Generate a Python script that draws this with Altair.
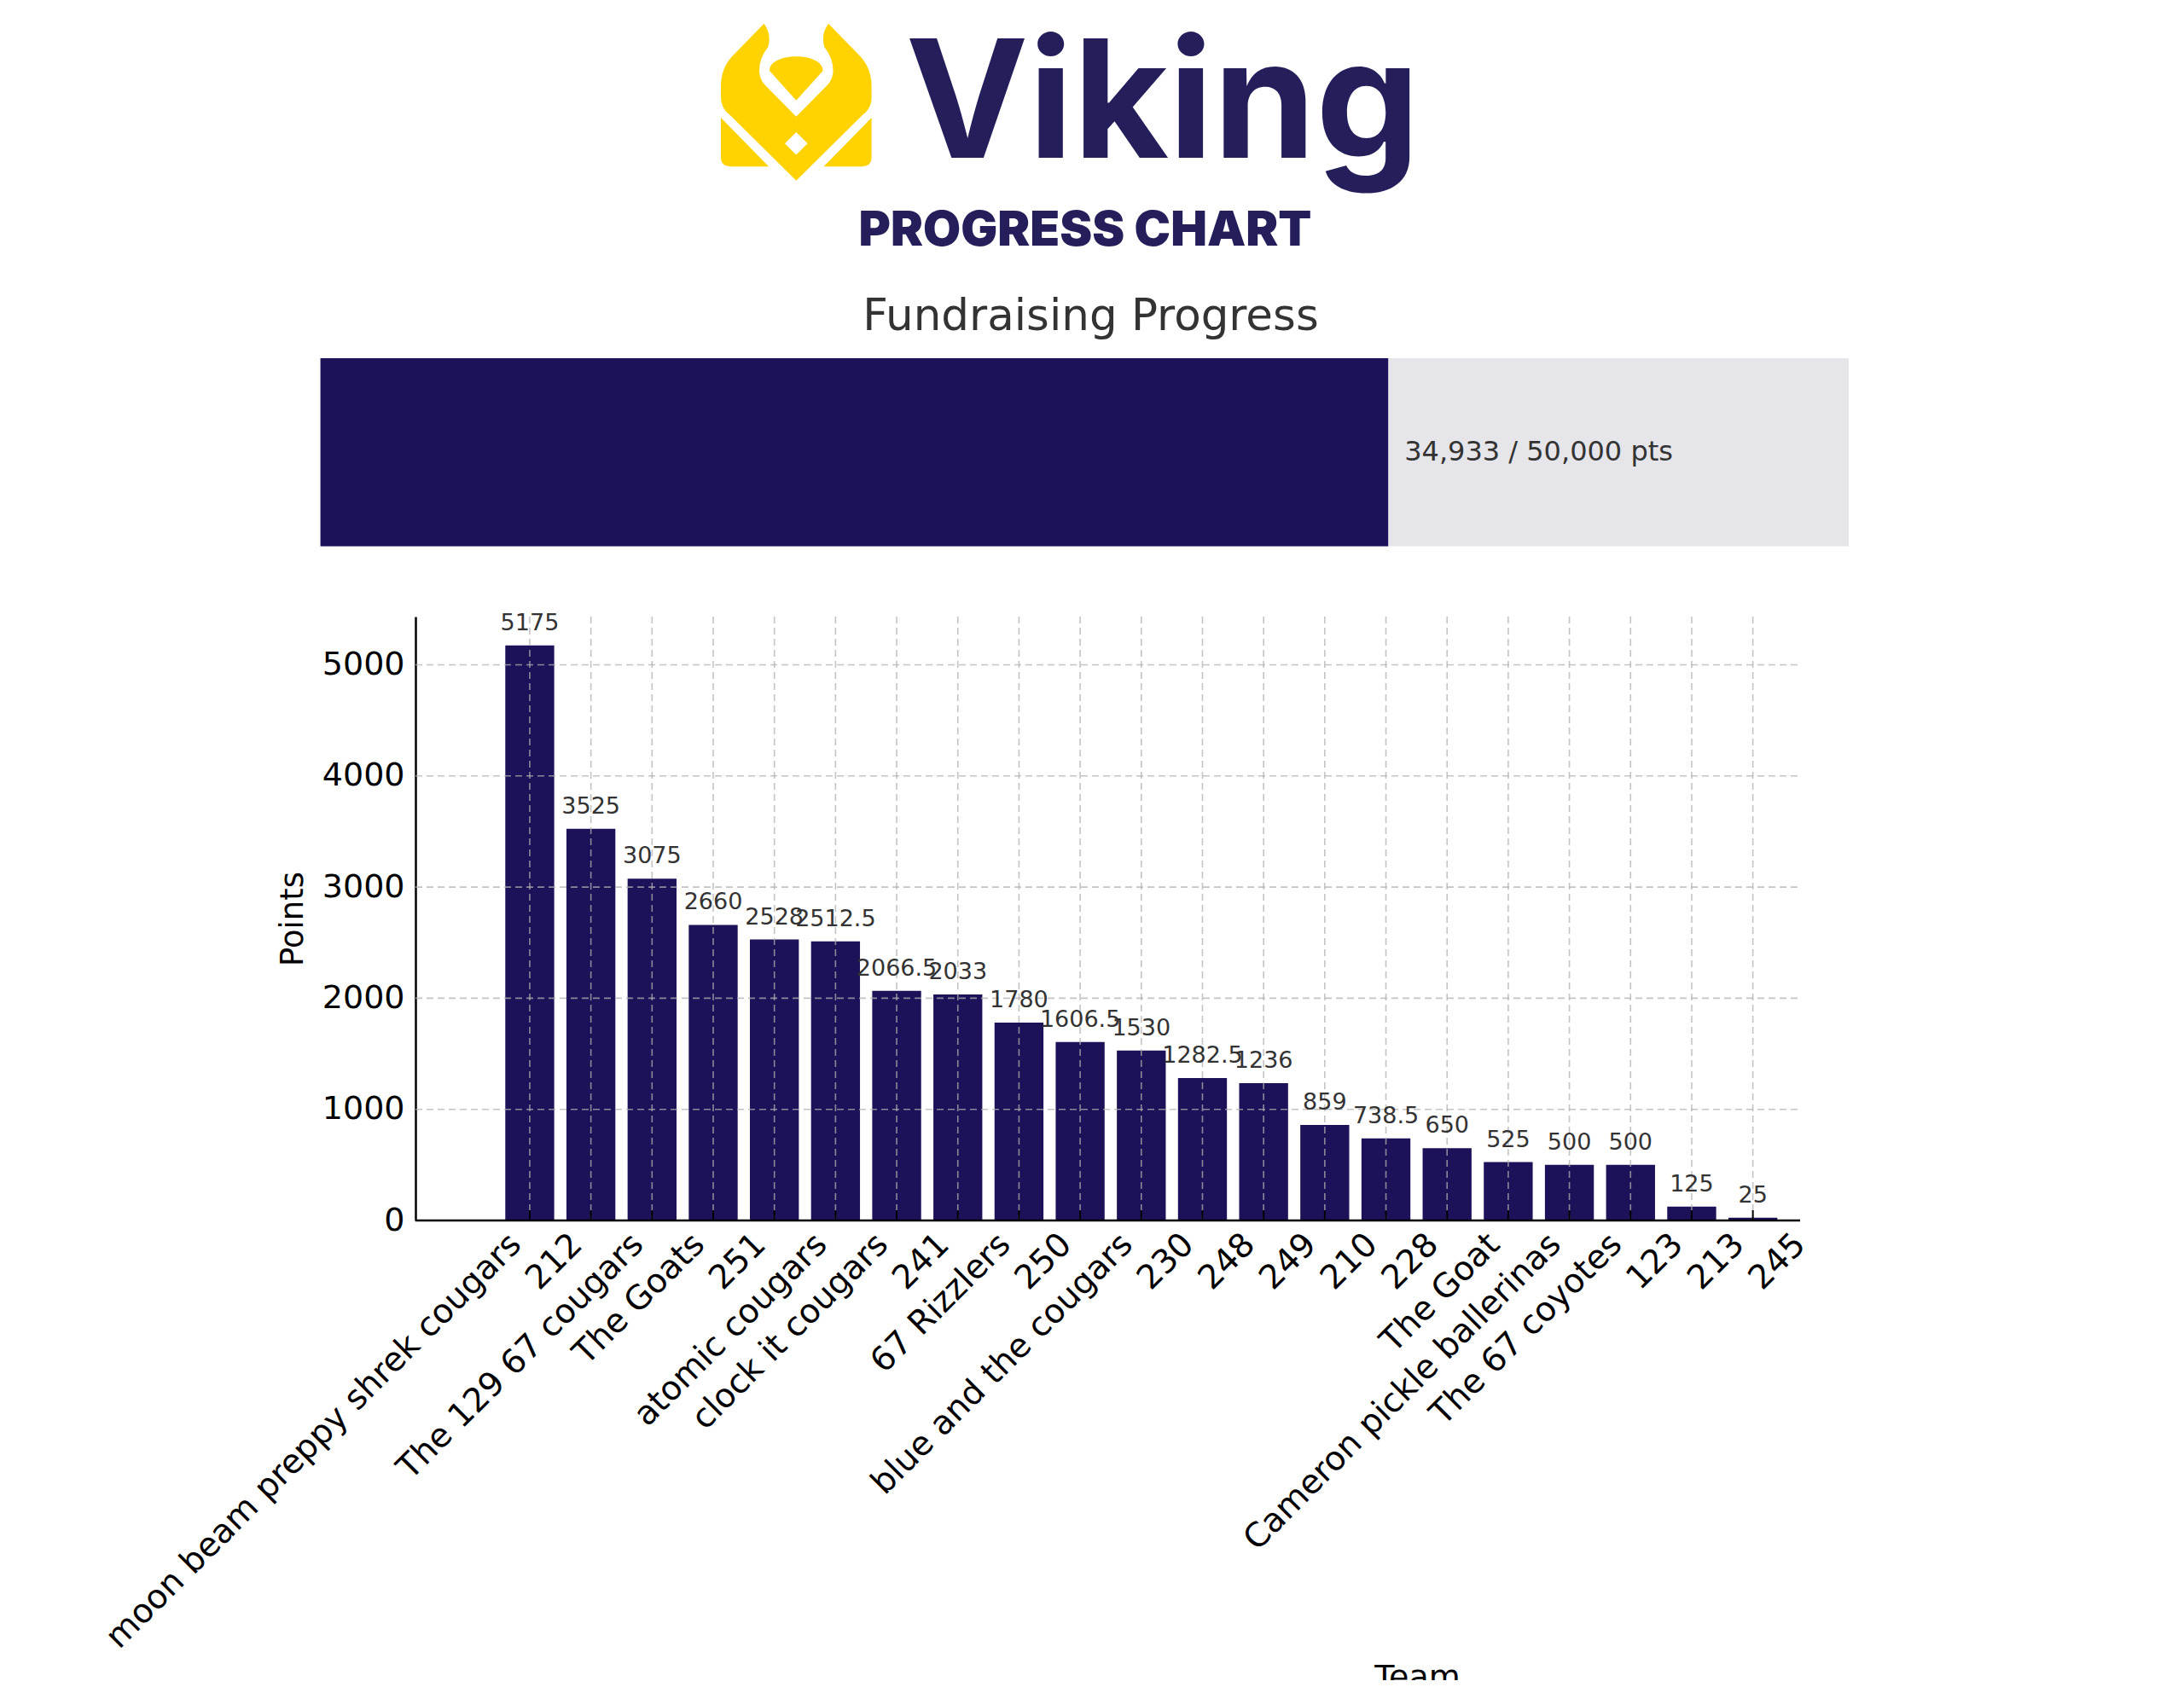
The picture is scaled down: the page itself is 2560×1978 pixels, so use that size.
import altair as alt
import pandas as pd

# ---------------- data ----------------
teams = [
    "moon beam preppy shrek cougars", "212", "The 129 67 cougars", "The Goats", "251",
    "atomic cougars", "clock it cougars", "241", "67 Rizzlers", "250",
    "blue and the cougars", "230", "248", "249", "210", "228", "The Goat",
    "Cameron pickle ballerinas", "The 67 coyotes", "123", "213", "245",
]
points = [
    5175, 3525, 3075, 2660, 2528, 2512.5, 2066.5, 2033, 1780, 1606.5,
    1530, 1282.5, 1236, 859, 738.5, 650, 525, 500, 500, 125, 25, 0,
]
goal = 50000
y_ticks = [0, 1000, 2000, 3000, 4000, 5000]

brand_name = "Viking"
subtitle = "PROGRESS CHART"
progress_title = "Fundraising Progress"

FONT = "DejaVu Sans"
LOGO_FONT = "Inter"
NAVY = "#1c1259"
LOGO_NAVY = "#241f5a"
YELLOW = "#FFD200"
GRID = "#b0b0b0"

df = pd.DataFrame({"Team": teams, "Points": points})
df["label"] = [f"{v:g}" for v in points]
raised = sum(points)
prog = pd.DataFrame({
    "start": [0],
    "raised": [raised],
    "goal": [goal],
    "label": [f"{int(raised + 0.5):,} / {goal:,} pts"],
})
one = pd.DataFrame({"k": [0]})
ticks_df = pd.DataFrame({"tick": y_ticks})

W, H = 1623, 708

xscale = alt.Scale(domain=teams, range=[0, 1668], paddingInner=0.2,
                   paddingOuter=0.7343, align=1)
yscale = alt.Scale(domain=[0, 5433.75], nice=False, zero=True)

x_axis = alt.Axis(
    labelAngle=315, labelAlign="right", labelBaseline="top", labelOffset=-30,
    labelPadding=8, labelFont=FONT, labelFontSize=39, labelColor="black",
    labelLimit=2000, labelOverlap=False, ticks=False, domain=False, grid=False,
    title="Team", titleX=1174, titleY=517, titleBaseline="top", titleAlign="center",
    titleFont=FONT, titleFontSize=38, titleFontWeight="normal", titleColor="black",
)
y_axis = alt.Axis(
    values=y_ticks, format="d", labelFont=FONT, labelFontSize=38, labelColor="black",
    labelPadding=13, ticks=False, grid=False, domainColor="black", domainWidth=2.5,
    title="Points", titleFont=FONT, titleFontSize=37, titleFontWeight="normal",
    titleColor="black", titleX=-144, titleY=354, titleAngle=270,
    titleBaseline="middle", titleAlign="center",
)

base = alt.Chart(df)

bars = base.mark_bar(color=NAVY).encode(
    x=alt.X("Team:N", scale=xscale, sort=None, axis=x_axis),
    y=alt.Y("Points:Q", scale=yscale, axis=y_axis),
)

shown = base.transform_filter("datum.Points > 0")

vgrid = shown.mark_rule(color=GRID, strokeDash=[8, 5], strokeWidth=1.6, opacity=0.75).encode(
    x=alt.X("Team:N", title="Team"),
    y=alt.value(0),
    y2=alt.value(H),
)

hgrid = alt.Chart(ticks_df).mark_rule(color=GRID, strokeDash=[8, 5], strokeWidth=1.6, opacity=0.75).encode(
    y=alt.Y("tick:Q", title="Points"),
    x=alt.value(0),
    x2=alt.value(W),
)

xticks = shown.mark_rule(color="black", strokeWidth=2).encode(
    x=alt.X("Team:N", title="Team"),
    y=alt.value(H),
    y2=alt.value(H - 12),
)

xline = alt.Chart(one).mark_rule(color="black", strokeWidth=2.5).encode(
    x=alt.value(0), x2=alt.value(W), y=alt.value(H),
)

values_text = shown.mark_text(
    dy=-18, baseline="alphabetic", align="center", font=FONT, fontSize=27, color="#333333",
).encode(
    x=alt.X("Team:N", title="Team"),
    y=alt.Y("Points:Q", title="Points"),
    text="label:N",
)

bar_chart = alt.layer(bars, vgrid, hgrid, xticks, xline, values_text)

# ---------------- progress bar ----------------
pscale = alt.Scale(domain=[0, goal], range=[-111.4, 1680], nice=False, zero=True)

prog_bg = alt.Chart(prog).mark_rect(color="#e5e5ea").encode(
    x=alt.X("start:Q", scale=pscale, axis=None),
    x2="goal:Q",
    y=alt.value(-303),
    y2=alt.value(-82.5),
)
prog_fill = alt.Chart(prog).mark_rect(color=NAVY).encode(
    x=alt.X("start:Q", scale=pscale, axis=None),
    x2="raised:Q",
    y=alt.value(-303),
    y2=alt.value(-82.5),
)
prog_text = alt.Chart(prog).mark_text(
    align="left", baseline="middle", dx=19, font=FONT, fontSize=32, color="#333333",
).encode(
    x=alt.X("raised:Q", scale=pscale, axis=None),
    y=alt.value(-193),
    text="label:N",
)
progress = alt.layer(prog_bg, prog_fill, prog_text)

# ---------------- header ----------------
ICON_PATH = (
    "M-0.41,-1 L-0.80,-0.60 Q-0.96,-0.44 -0.96,-0.20 L-0.96,-0.06 Q-0.96,0.08 -0.84,0.17 "
    "L0,1 L0.84,0.17 Q0.96,0.08 0.96,-0.06 L0.96,-0.20 Q0.96,-0.44 0.80,-0.60 L0.41,-1 "
    "Q0.31,-0.86 0.36,-0.70 Q0.47,-0.56 0.47,-0.40 Q0.47,-0.30 0.40,-0.22 L0,0.185 "
    "L-0.40,-0.22 Q-0.47,-0.30 -0.47,-0.40 Q-0.47,-0.56 -0.36,-0.70 Q-0.31,-0.86 -0.41,-1 Z "
    "M-0.34,-0.40 C-0.34,-0.64 0.34,-0.64 0.34,-0.40 L0,-0.02 Z "
    "M-0.96,0.20 L-0.96,0.70 Q-0.96,0.82 -0.84,0.82 L-0.35,0.82 Z "
    "M0.96,0.20 L0.96,0.70 Q0.96,0.82 0.84,0.82 L0.35,0.82 Z"
)
DIAMOND_PATH = "M0,-1 L1,0 L0,1 L-1,0 Z"

icon = alt.Chart(one).mark_point(
    shape=ICON_PATH, filled=True, size=33856, opacity=1, color=YELLOW, strokeWidth=0,
).encode(x=alt.value(446.3), y=alt.value(-603.3))

diamond = alt.Chart(one).mark_point(
    shape=DIAMOND_PATH, filled=True, size=708, opacity=1, color="white", strokeWidth=0,
).encode(x=alt.value(446.3), y=alt.value(-554.7))

brand = alt.Chart(one).mark_text(
    align="left", baseline="alphabetic", font=LOGO_FONT, fontSize=193, fontWeight=700,
    color=LOGO_NAVY,
).encode(x=alt.value(574.5), y=alt.value(-538), text=alt.value(brand_name))

sub = alt.Chart(one).mark_text(
    align="center", baseline="alphabetic", font=LOGO_FONT, fontSize=57, fontWeight=900,
    color=LOGO_NAVY,
).encode(x=alt.value(785), y=alt.value(-435), text=alt.value(subtitle))

ptitle = alt.Chart(one).mark_text(
    align="center", baseline="alphabetic", font=FONT, fontSize=51.5, color="#333333",
).encode(x=alt.value(791.5), y=alt.value(-336), text=alt.value(progress_title))

chart = alt.layer(
    bar_chart, progress, icon, diamond, brand, sub, ptitle,
).resolve_scale(x="independent").properties(
    width=W, height=H,
    background="white",
    padding={"left": 479, "top": 715, "right": 442, "bottom": 539},
    autosize=alt.AutoSizeParams(type="none"),
).configure_view(stroke="transparent", strokeWidth=0)

chart.save("out.html", embed_options={"renderer": "svg", "actions": False})
